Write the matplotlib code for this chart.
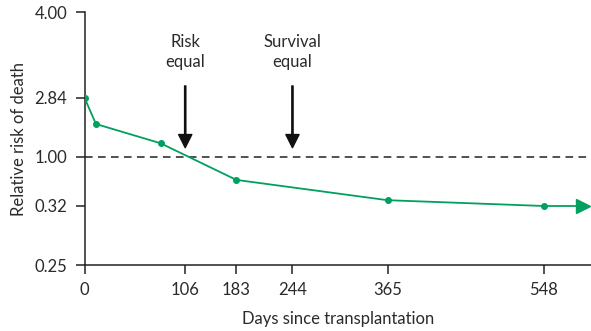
import numpy as np
import matplotlib
matplotlib.use("Agg")
import matplotlib.pyplot as plt

# ---- data ----
days = [0, 12, 80, 183, 365, 548]
risk = [2.84, 2.02, 1.42, 0.68, 0.40, 0.32]
arrow_end_day = 594
x_ticks = [0, 106, 183, 244, 365, 548]
y_ticks = [0.25, 0.32, 1.00, 2.84, 4.00]
y_tick_labels = ["0.25", "0.32", "1.00", "2.84", "4.00"]
annot_days = [106, 244]
annot_labels = ["Risk\nequal", "Survival\nequal"]

# ---- piecewise scales (axes in the source are not linear) ----
x_knots_pos = [0, 100.5, 151.5, 207.5, 302.5, 458.5]
y_knots_pos = [0, 59, 108.3, 167.3, 252.7]


def pw(xs, ys):
    xs = np.asarray(xs, float)
    ys = np.asarray(ys, float)

    def fn(v):
        v = np.asarray(v, float)
        out = np.interp(v, xs, ys)
        lo_s = (ys[1] - ys[0]) / (xs[1] - xs[0])
        hi_s = (ys[-1] - ys[-2]) / (xs[-1] - xs[-2])
        out = np.where(v < xs[0], ys[0] + (v - xs[0]) * lo_s, out)
        out = np.where(v > xs[-1], ys[-1] + (v - xs[-1]) * hi_s, out)
        return out
    return fn


plt.rcParams['font.family'] = ['Lato', 'DejaVu Sans']
text_c = '#2a2a2a'
green = '#00a060'
fs = 12

fig = plt.figure(figsize=(5.91, 3.31), dpi=100)
ax = fig.add_axes([84.5 / 591, 1 - 265 / 331, (591 - 84.5) / 591, (265 - 12.3) / 331])

ax.set_xscale('function', functions=(pw(x_ticks, x_knots_pos), pw(x_knots_pos, x_ticks)))
ax.set_yscale('function', functions=(pw(y_ticks, y_knots_pos), pw(y_knots_pos, y_ticks)))

ax.set_xlim(0, 603)
ax.set_ylim(0.25, 4.00)

# reference line
ax.axhline(1.0, color='#222222', lw=1.1, ls=(0, (5, 3.5)), zorder=1)

# series
ax.plot(days + [arrow_end_day - 8], risk + [risk[-1]], color=green, lw=1.3, zorder=3)
ax.plot(days, risk, 'o', color=green, ms=4, zorder=4)
ax.plot([arrow_end_day], [risk[-1]], marker='>', color=green, ms=10, zorder=4)

# annotations
for d, lab in zip(annot_days, annot_labels):
    ax.text(d, 3.46, lab, ha='center', va='center', fontsize=fs, color=text_c,
            linespacing=1.3)
    ax.annotate('', xy=(d, 1.28), xytext=(d, 3.0),
                arrowprops=dict(width=0.9, headwidth=9.5, headlength=9.5,
                                color='#111111', shrink=0))

ax.set_xticks(x_ticks)
ax.set_xticklabels([str(t) for t in x_ticks])
ax.set_yticks(y_ticks)
ax.set_yticklabels(y_tick_labels)
ax.minorticks_off()

for s in ['top', 'right']:
    ax.spines[s].set_visible(False)
for s in ['left', 'bottom']:
    ax.spines[s].set_color('#222222')
    ax.spines[s].set_linewidth(1.1)

ax.tick_params(axis='both', length=6.5, width=1.1, color='#222222',
               labelsize=fs, labelcolor=text_c)
ax.tick_params(axis='x', pad=6)
ax.tick_params(axis='y', pad=6)

ax.set_xlabel('Days since transplantation', fontsize=fs, color=text_c, labelpad=9)
ax.set_ylabel('Relative risk of death', fontsize=fs, color=text_c, labelpad=5)

fig.savefig('out.png', dpi=100)
